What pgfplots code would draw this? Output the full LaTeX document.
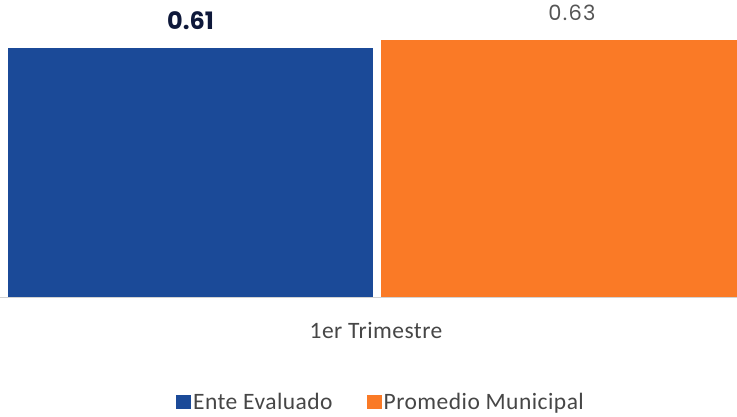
\documentclass[border=0pt]{standalone}
\usepackage{pgfplots}
\pgfplotsset{compat=1.18}
\usepackage{fontspec}
\setmainfont{Carlito}[LetterSpace=2]
\newfontfamily\pop{Poppins}
\newfontfamily\popls{Poppins}[LetterSpace=6]
\definecolor{cblue}{RGB}{27,74,152}
\definecolor{corange}{RGB}{250,122,38}
\definecolor{cnavy}{RGB}{14,24,58}
\definecolor{cgray}{RGB}{85,85,85}
\definecolor{ctext}{RGB}{70,70,70}
\begin{document}
\begin{tikzpicture}
\useasboundingbox (0,0) rectangle (737pt,416pt);
\begin{axis}[
  at={(0pt,119pt)}, anchor=south west,
  scale only axis, width=737pt, height=297pt,
  xmin=0, xmax=737, ymin=0, ymax=0.728,
  ybar, bar shift=0pt,
  /pgf/number format/assume math mode=true,
  axis y line=none, axis x line=bottom,
  x axis line style={draw=gray!35, line width=0.8pt, -},
  xtick={376}, xticklabels={1er Trimestre},
  major tick length=0pt,
  xticklabel style={anchor=center, yshift=-34pt, font=\fontsize{23.5}{26}\selectfont, text=ctext},
  ytick=\empty,
  legend columns=2,
  legend style={draw=none, fill=none, at={(0.517,-0.3535)}, anchor=center,
    font=\fontsize{23.5}{26}\selectfont, text=ctext,
    nodes={inner sep=2pt},
    /tikz/every even column/.append style={column sep=32pt}},
  legend image code/.code={\path[#1,draw=none] (0pt,-7pt) rectangle (15pt,7pt);},
  legend cell align=left,
]
\addplot[fill=cblue, draw=none, bar width=365pt, nodes near coords,
  every node near coord/.append style={anchor=center, yshift=27pt, font=\pop\bfseries\fontsize{24}{26}\selectfont, text=cnavy}]
  coordinates {(190.5,0.61)};
\addplot[fill=corange, draw=none, bar width=382pt, nodes near coords,
  every node near coord/.append style={anchor=center, yshift=27.5pt, font=\popls\fontsize{21}{24}\selectfont, text=cgray}]
  coordinates {(572,0.63)};
\legend{Ente Evaluado, Promedio Municipal}
\end{axis}
\end{tikzpicture}
\end{document}
